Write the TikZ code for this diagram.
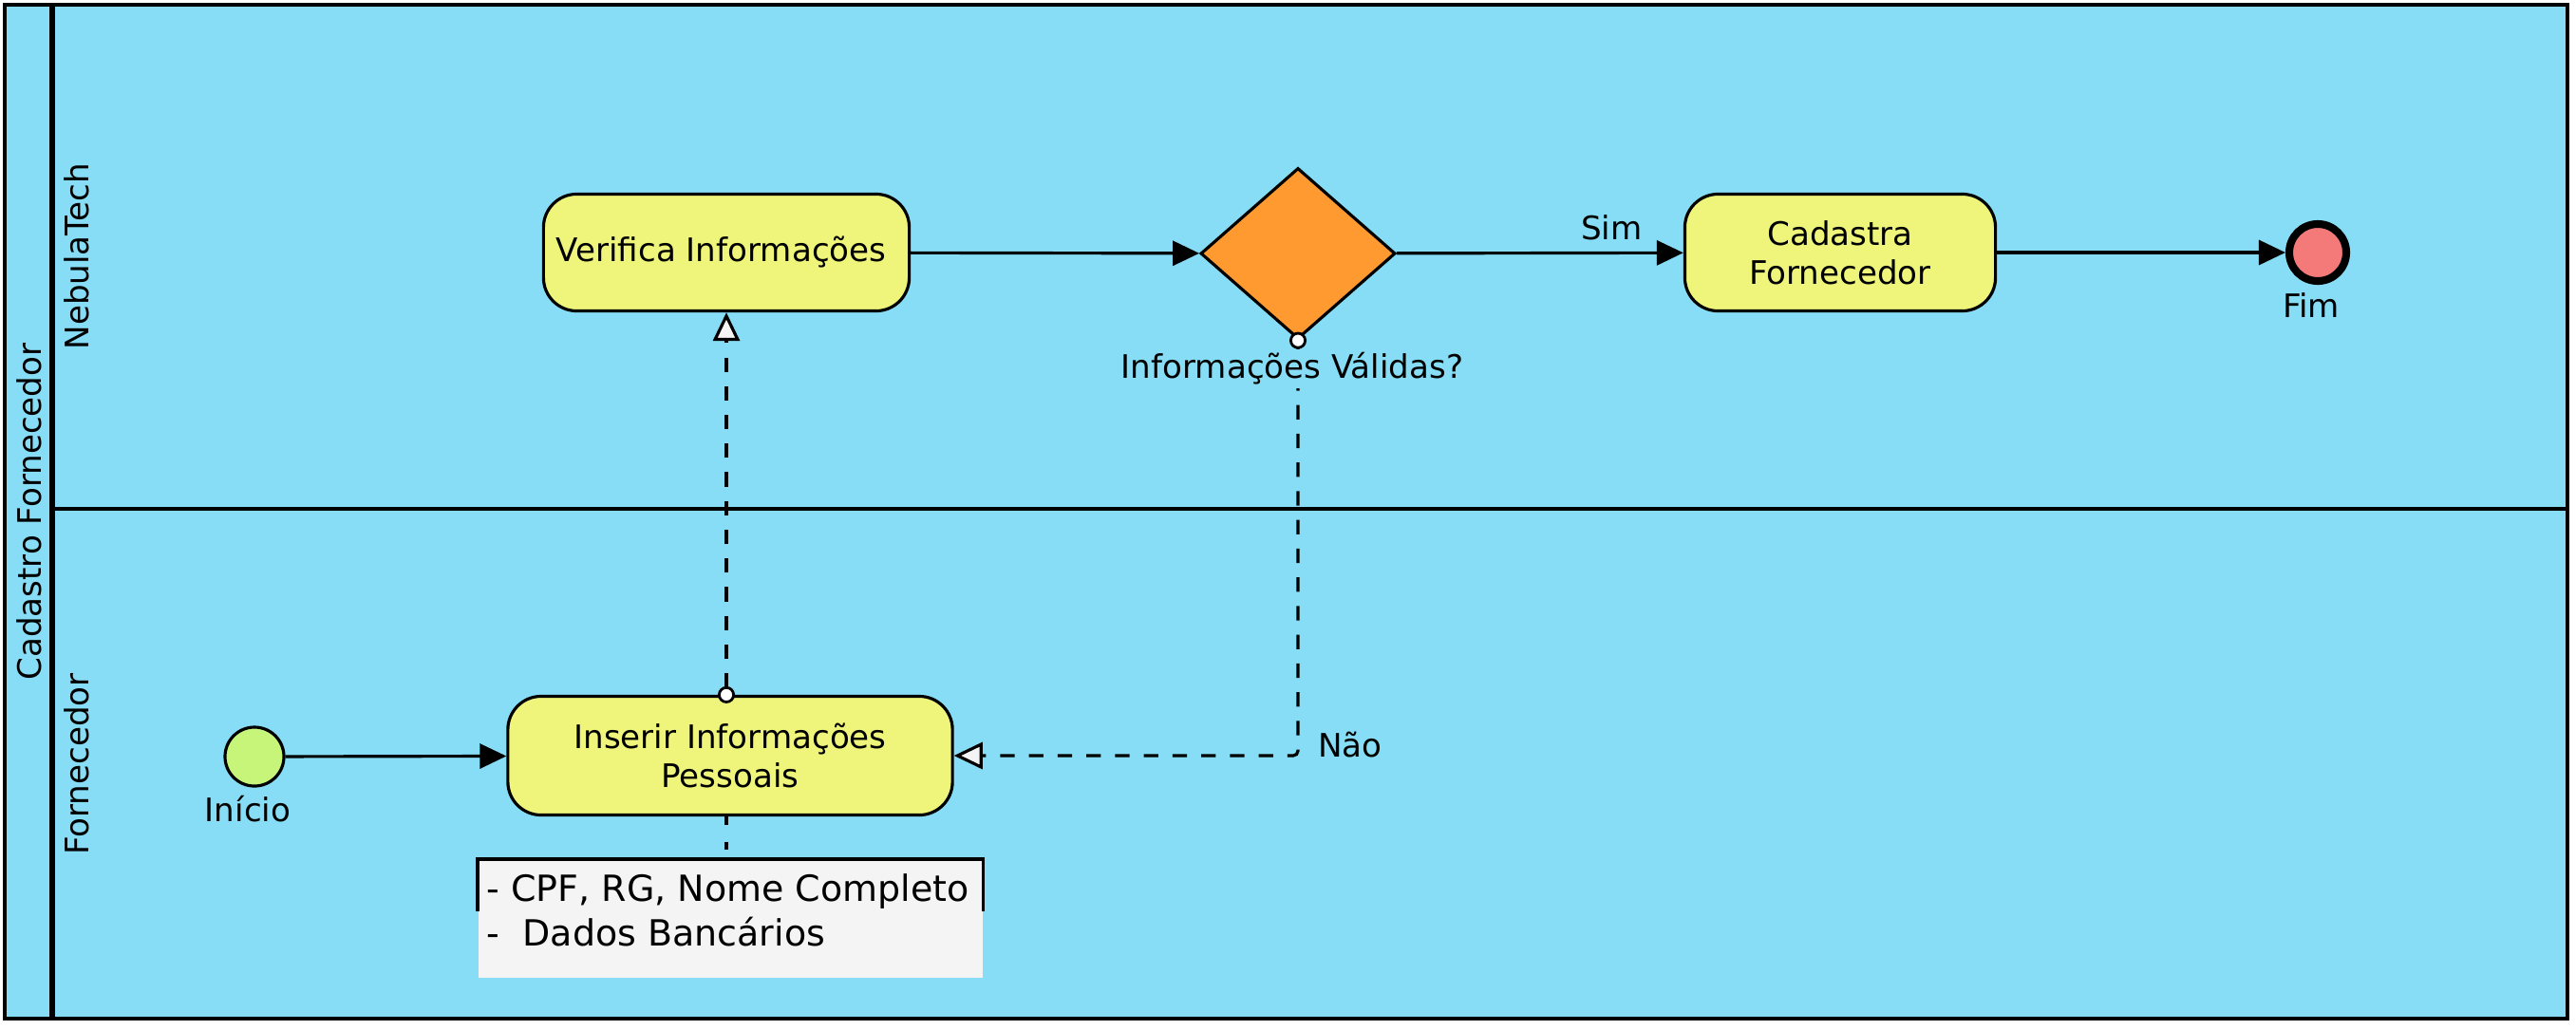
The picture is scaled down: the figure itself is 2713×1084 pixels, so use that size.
\documentclass[tikz,border=0pt]{standalone}
\usepackage{fontspec}
\setmainfont{DejaVu Sans}
\usetikzlibrary{arrows.meta, shapes.geometric, calc}

\definecolor{lanecol}{RGB}{135,221,245}
\definecolor{taskcol}{RGB}{239,245,122}
\definecolor{gatecol}{RGB}{255,154,48}
\definecolor{startcol}{RGB}{198,245,122}
\definecolor{endcol}{RGB}{244,122,122}
\definecolor{notecol}{RGB}{244,244,244}

\begin{document}
\begin{tikzpicture}[x=0.01cm, y=-0.01cm,
    font=\fontsize{9.7}{11.6}\selectfont,
    task/.style={draw, line width=0.9pt, fill=taskcol, rounded corners=0.35cm, align=center, inner sep=0pt, minimum height=1.23cm},
    flow/.style={line width=0.9pt, -{Triangle[length=0.28cm, width=0.26cm]}},
    msg/.style={line width=0.9pt, dash pattern=on 4.3pt off 4.3pt, shorten <=-0.09cm,
      {Circle[length=0.18cm, fill=white, line width=0.8pt]}-{Triangle[length=0.3cm, width=0.28cm, fill=notecol, line width=0.9pt]}}]
    \useasboundingbox (0,0) rectangle (2713,1084);

    \draw[line width=0.9pt, fill=lanecol] (5,5) rectangle (2704,1073);
    \draw[line width=1.6pt] (55,5) -- (55,1073);
    \draw[line width=0.9pt] (55,536) -- (2704,536);
    \node[rotate=90] (pool) at (31,539) {Cadastro Fornecedor};
    \node[rotate=90] (lane1) at (81,270) {NebulaTech};
    \node[rotate=90] (lane2) at (81,805) {Fornecedor};

    \node[task, minimum width=3.85cm] (verifica) at (765,266) {Verifica Informações\ };
    \node[diamond, draw, line width=0.9pt, fill=gatecol, inner sep=0pt, minimum width=2.05cm, minimum height=1.8cm] (gate) at (1367,267) {};
    \node[task, minimum width=3.27cm] (cadastra) at (1938,266) {Cadastra\\Fornecedor};
    \node[circle, draw, line width=2.3pt, fill=endcol, inner sep=0pt, minimum size=0.6cm, label={[xshift=-0.07cm, yshift=1pt]below:{Fim}}] (fim) at (2441,266) {};

    \node[circle, draw, line width=0.9pt, fill=startcol, inner sep=0pt, minimum size=0.62cm, label={[xshift=-0.07cm, yshift=1pt]below:{Início}}] (inicio) at (268,797) {};
    \node[task, minimum width=4.68cm, minimum height=1.25cm] (inserir) at (769,796) {Inserir Informações\\Pessoais};
    \node[anchor=north west, fill=notecol, minimum width=5.31cm, minimum height=1.24cm, inner sep=0pt] (nota) at (503,905) {};
    \node[anchor=north west, align=left, inner sep=0pt, font=\fontsize{10.8}{13.3}\selectfont] (notatext) at ($(nota.north west)+(9,15)$) {- CPF, RG, Nome Completo\\-\ \ Dados Bancários};
    \draw[line width=0.9pt] ($(nota.north west)+(0,55)$) -- (nota.north west) -- (nota.north east) -- ++(0,55);

    \draw[flow] (verifica) -- (gate);
    \draw[flow] (gate) -- node[above, pos=0.75] (sim) {Sim} (cadastra);
    \draw[flow] (cadastra) -- (fim);
    \draw[flow] (inicio) -- (inserir);
    \draw[msg] (inserir.north -| verifica.south) -- (verifica.south);
    \draw[msg, rounded corners=0.05cm] (gate.south) |- node[pos=0.5, anchor=west, xshift=0.08cm, yshift=3.4pt] (nao) {Não} (inserir.east);
    \draw[line width=0.9pt, dash pattern=on 2.5pt off 5pt] (inserir.south -| verifica.south) -- (nota.north -| verifica.south);

    \node[fill=lanecol, inner sep=1pt] (gatelabel) at ($(gate.south)+(-6,30)$) {Informações Válidas?};
  \end{tikzpicture}
\end{document}
